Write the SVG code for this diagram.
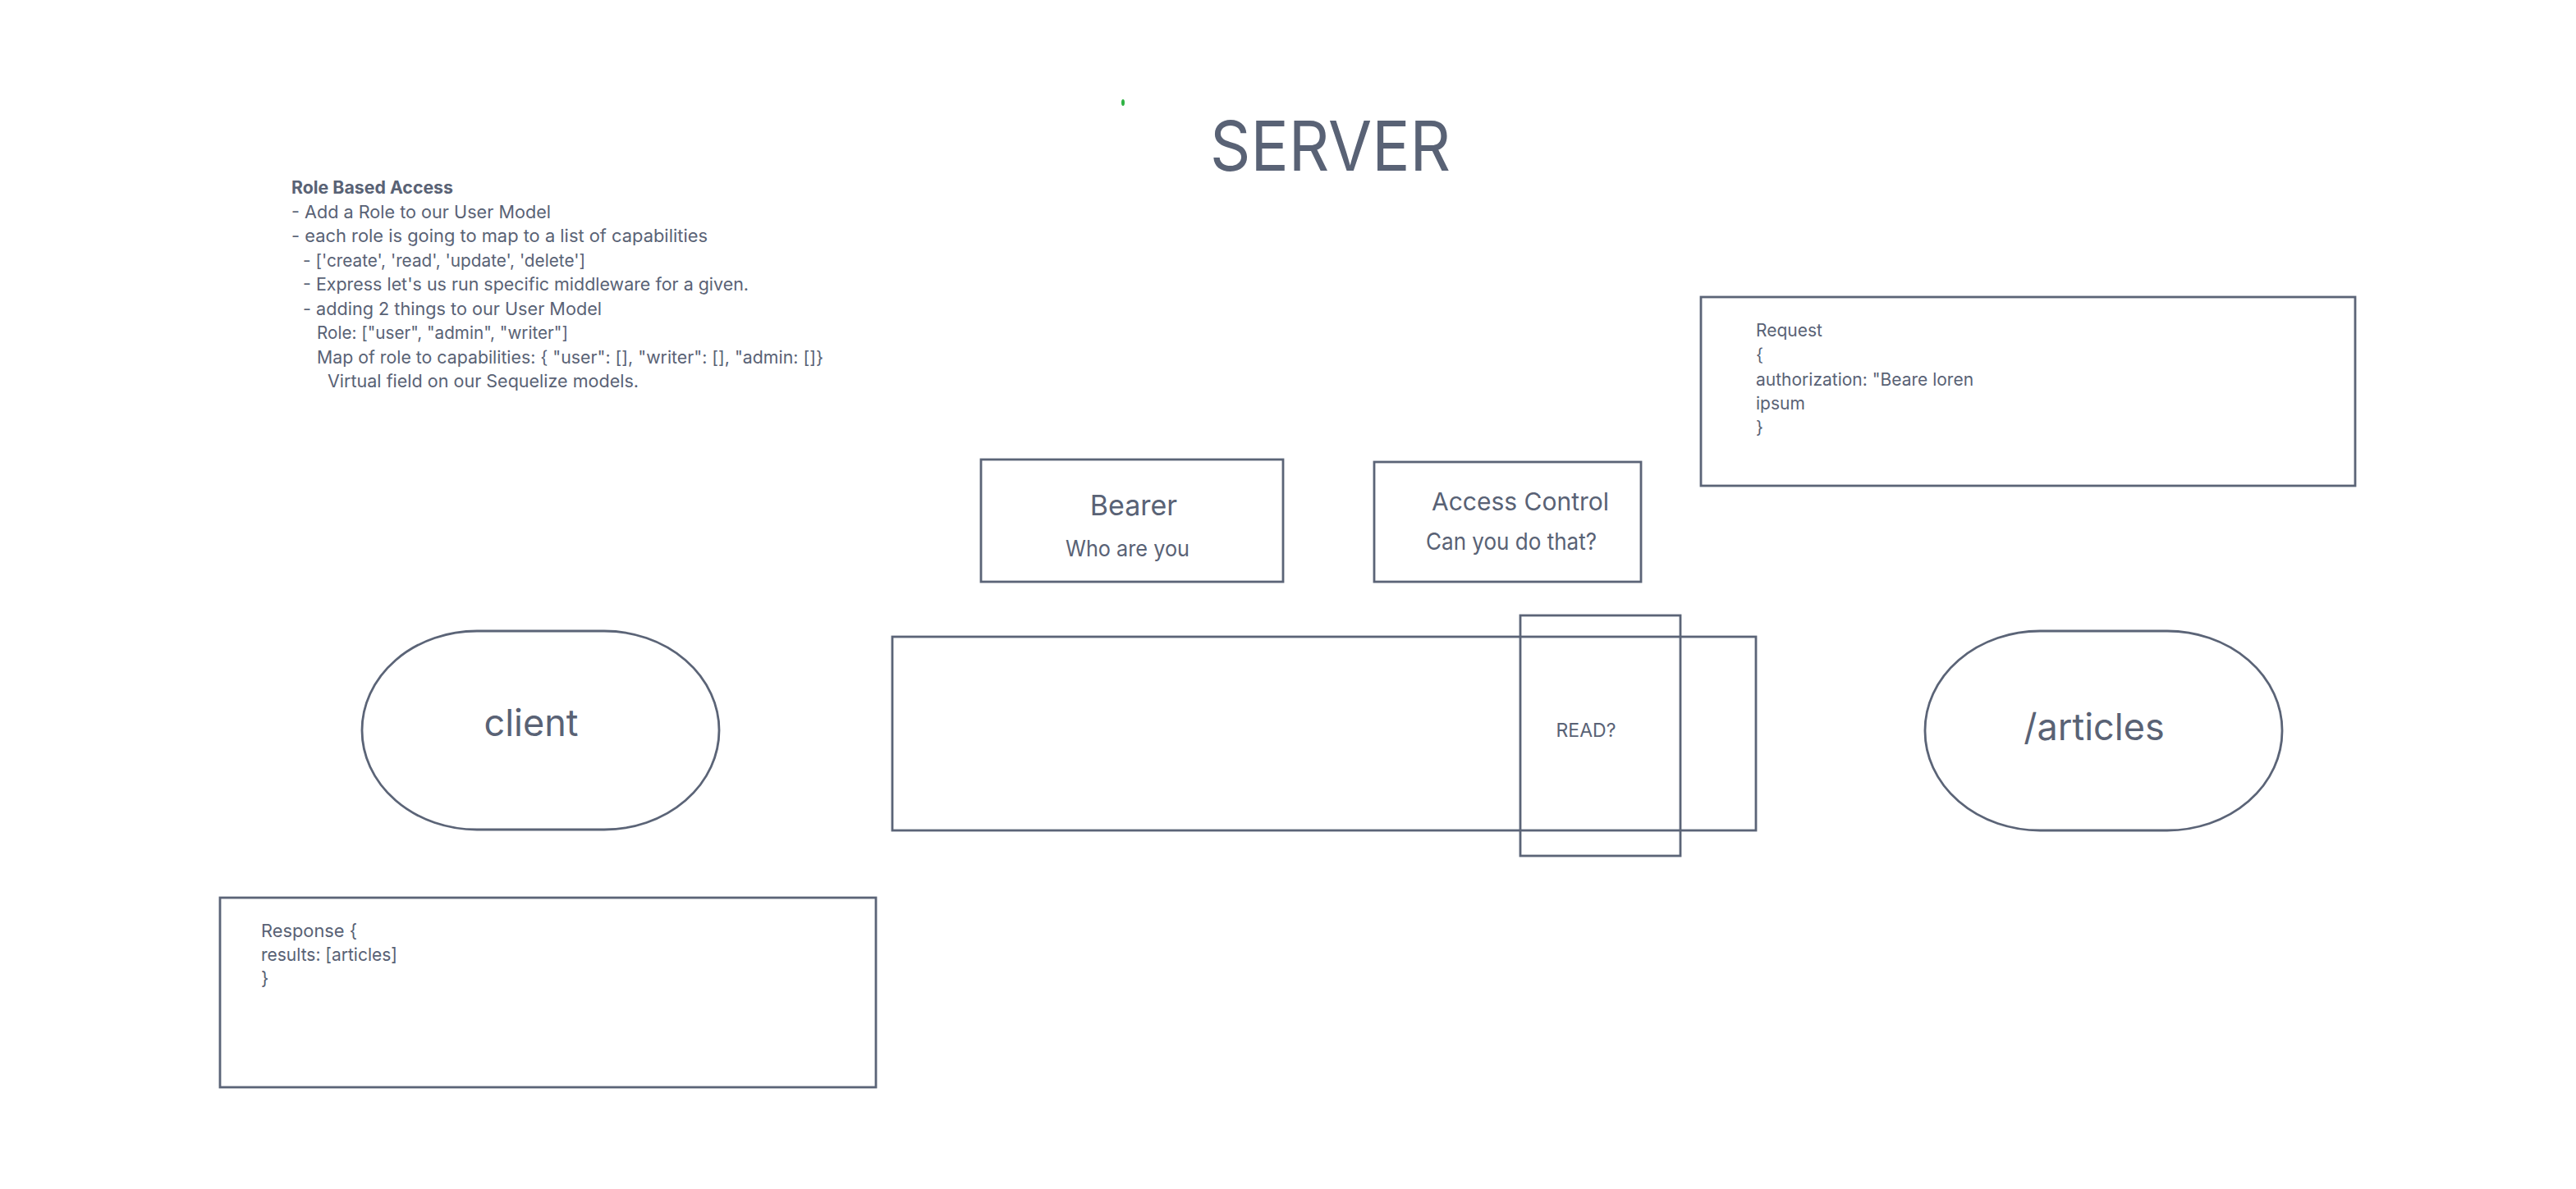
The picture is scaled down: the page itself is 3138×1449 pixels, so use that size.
<svg xmlns="http://www.w3.org/2000/svg" width="3138" height="1449" viewBox="0 0 3138 1449">
<style>
.shape{fill:none;stroke:#5b6477;stroke-width:2.8}
text{font-family:Inter,"Liberation Sans",sans-serif;fill:#596275}
.mid{text-anchor:middle}
.note{font-size:21px}
.code{font-size:21px}
</style>
<rect x="0" y="0" width="3138" height="1449" fill="#ffffff"/>
<ellipse cx="1368" cy="125" rx="2" ry="4" fill="#2fb344"/>
<g id="title">
<text x="1474" y="208" font-size="84" textLength="293" lengthAdjust="spacingAndGlyphs">SERVER</text>
</g>
<g id="notes" class="note">
<text x="355" y="236" font-weight="bold" textLength="197" lengthAdjust="spacingAndGlyphs">Role Based Access</text>
<text x="355" y="266" textLength="316" lengthAdjust="spacingAndGlyphs">- Add a Role to our User Model</text>
<text x="355" y="295" textLength="507" lengthAdjust="spacingAndGlyphs">- each role is going to map to a list of capabilities</text>
<text x="369" y="325" textLength="344" lengthAdjust="spacingAndGlyphs">- ['create', 'read', 'update', 'delete']</text>
<text x="369" y="354" textLength="543" lengthAdjust="spacingAndGlyphs">- Express let's us run specific middleware for a given.</text>
<text x="369" y="384" textLength="364" lengthAdjust="spacingAndGlyphs">- adding 2 things to our User Model</text>
<text x="386" y="413" textLength="306" lengthAdjust="spacingAndGlyphs">Role: ["user", "admin", "writer"]</text>
<text x="386" y="443" textLength="617" lengthAdjust="spacingAndGlyphs">Map of role to capabilities: { "user": [], "writer": [], "admin: []}</text>
<text x="399" y="472" textLength="379" lengthAdjust="spacingAndGlyphs">Virtual field on our Sequelize models.</text>
</g>
<g id="request">
<rect class="shape" x="2072" y="362" width="797" height="230"/>
<text class="code" x="2139" y="410">Request</text>
<text class="code" x="2139" y="440">{</text>
<text class="code" x="2139" y="470">authorization: "Beare loren</text>
<text class="code" x="2139" y="499">ipsum</text>
<text class="code" x="2139" y="528">}</text>
</g>
<g id="bearer">
<rect class="shape" x="1195" y="560" width="368" height="149"/>
<text class="mid" x="1381" y="628" font-size="34">Bearer</text>
<text x="1298" y="678" font-size="27" textLength="151" lengthAdjust="spacingAndGlyphs">Who are you</text>
</g>
<g id="access-control">
<rect class="shape" x="1674" y="563" width="325" height="146"/>
<text class="mid" x="1852" y="622" font-size="30">Access Control</text>
<text x="1737" y="670" font-size="28" textLength="208" lengthAdjust="spacingAndGlyphs">Can you do that?</text>
</g>
<g id="client">
<rect class="shape" x="441" y="769" width="435" height="242" rx="140" ry="121"/>
<text class="mid" x="647" y="897" font-size="45">client</text>
</g>
<g id="middleware">
<rect class="shape" x="1087" y="776" width="1052" height="236"/>
</g>
<g id="read">
<rect class="shape" x="1852" y="750" width="195" height="293"/>
<text class="mid" x="1932" y="898" font-size="23">READ?</text>
</g>
<g id="articles">
<rect class="shape" x="2345" y="769" width="435" height="243" rx="140" ry="121"/>
<text class="mid" x="2551" y="902" font-size="45">/articles</text>
</g>
<g id="response">
<rect class="shape" x="268" y="1094" width="799" height="231"/>
<text x="318" y="1142" font-size="22" textLength="117" lengthAdjust="spacingAndGlyphs">Response {</text>
<text x="318" y="1171" font-size="22" textLength="166" lengthAdjust="spacingAndGlyphs">results: [articles]</text>
<text x="318" y="1200" font-size="22">}</text>
</g>
<g id="connectors"></g>
</svg>
